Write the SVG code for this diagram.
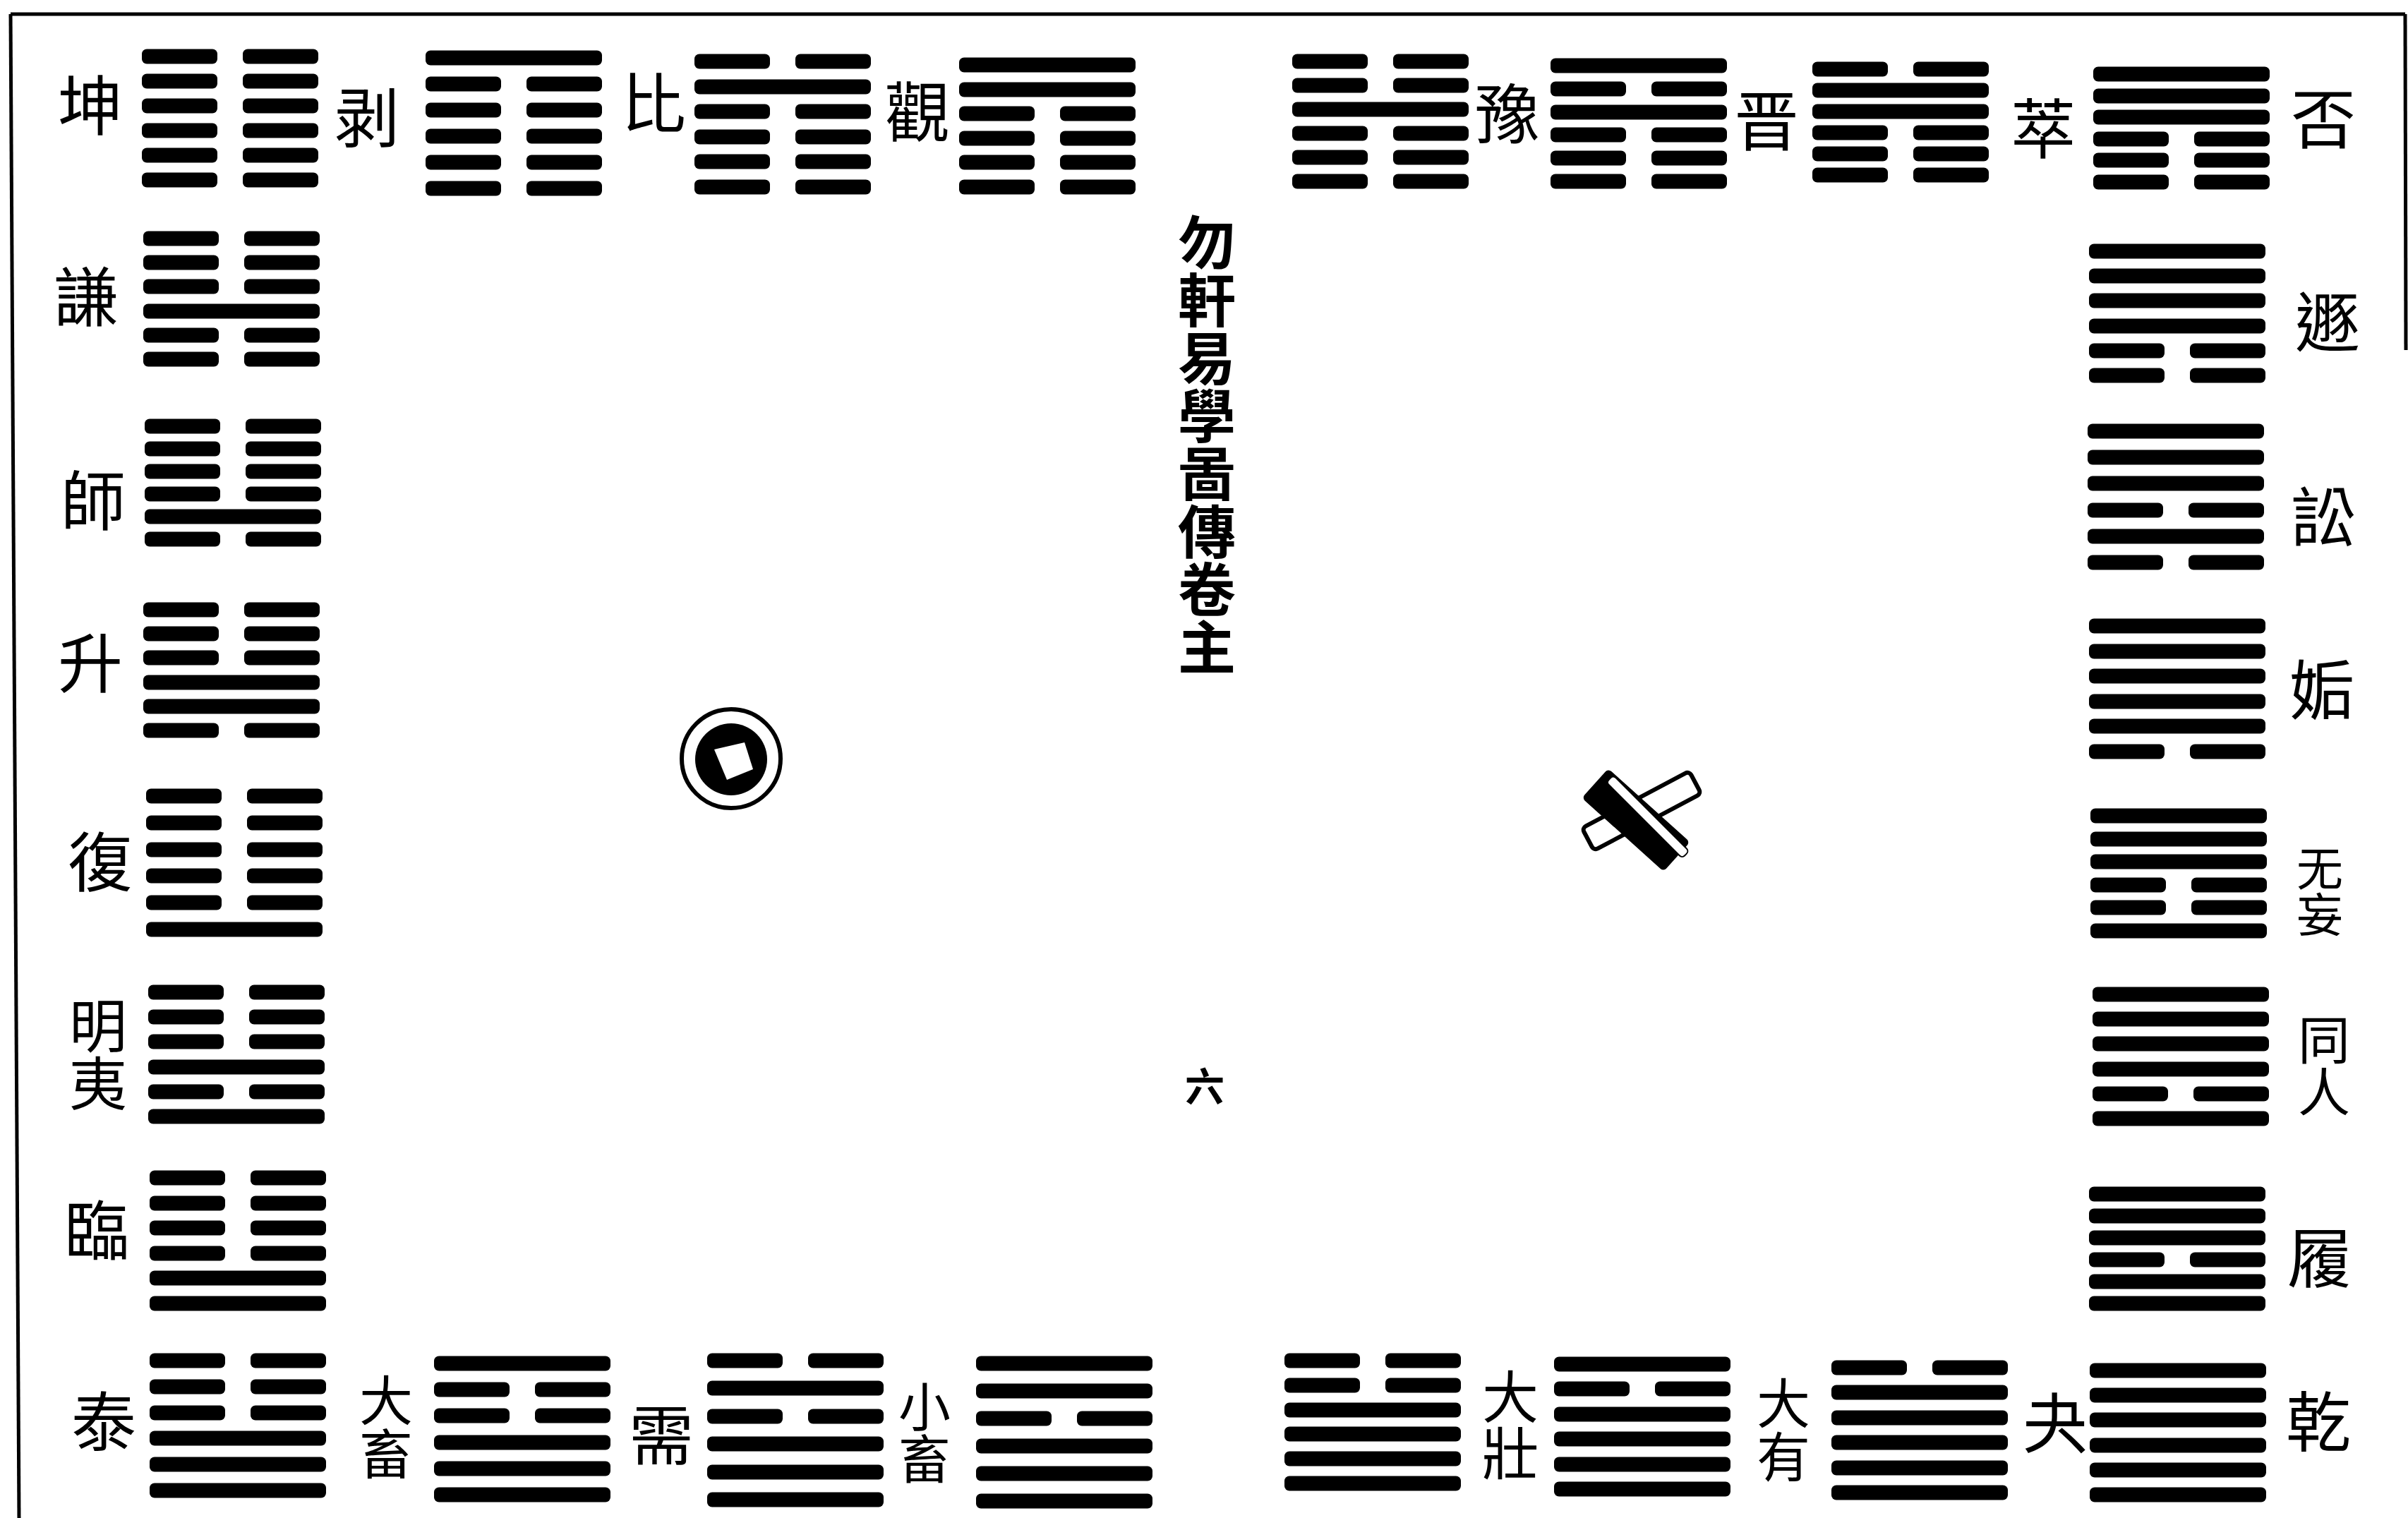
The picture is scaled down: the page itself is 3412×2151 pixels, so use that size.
<svg xmlns="http://www.w3.org/2000/svg" xmlns:xlink="http://www.w3.org/1999/xlink" width="3412" height="2151" viewBox="0 0 3412 2151">
<style>
.lbl{font-family:"Noto Sans CJK TC","Noto Sans CJK SC",sans-serif;font-size:92px;text-anchor:middle;dominant-baseline:central;fill:#000}
.v{writing-mode:vertical-rl;text-anchor:middle}
.ttl{font-family:"Noto Sans CJK TC","Noto Sans CJK SC",sans-serif;font-size:82px;font-weight:700;text-anchor:middle;fill:#000}
.frame{stroke:#000;stroke-width:5;fill:none}
</style>
<defs>
<rect id="Y" y="-1.5" width="250" height="21" rx="7" fill="#000"/>
<g id="N"><rect y="-1.5" width="107" height="21" rx="7" fill="#000"/><rect x="143" y="-1.5" width="107" height="21" rx="7" fill="#000"/></g>
</defs>
<rect width="3412" height="2151" fill="#fff"/>
<g id="frame">
<path class="frame" d="M15 20 L27 2151"/>
<path class="frame" d="M15 20 L3408 20"/>
<path class="frame" d="M3408 20 L3409 496" stroke-width="3"/>
</g>
<g id="connectors"/>

<g id="kun"><text class="lbl" x="128" y="143">坤</text>
<use href="#N" x="201" y="71"/><use href="#N" x="201" y="106"/><use href="#N" x="201" y="141"/><use href="#N" x="201" y="176"/><use href="#N" x="201" y="211"/><use href="#N" x="201" y="246"/></g>
<g id="bo"><text class="lbl" x="520" y="160">剥</text>
<use href="#Y" x="603" y="73"/><use href="#N" x="603" y="110"/><use href="#N" x="603" y="147"/><use href="#N" x="603" y="184"/><use href="#N" x="603" y="221"/><use href="#N" x="603" y="258"/></g>
<g id="bi"><text class="lbl" x="926" y="140">比</text>
<use href="#N" x="984" y="78"/><use href="#Y" x="984" y="114"/><use href="#N" x="984" y="149"/><use href="#N" x="984" y="185"/><use href="#N" x="984" y="220"/><use href="#N" x="984" y="256"/></g>
<g id="guan"><text class="lbl" x="1300" y="152">觀</text>
<use href="#Y" x="1359" y="83"/><use href="#Y" x="1359" y="118"/><use href="#N" x="1359" y="152"/><use href="#N" x="1359" y="187"/><use href="#N" x="1359" y="221"/><use href="#N" x="1359" y="256"/></g>
<g id="yu"><text class="lbl" x="2136" y="155">豫</text>
<use href="#N" x="1831" y="78"/><use href="#N" x="1831" y="112"/><use href="#Y" x="1831" y="146"/><use href="#N" x="1831" y="180"/><use href="#N" x="1831" y="214"/><use href="#N" x="1831" y="248"/></g>
<g id="jin"><text class="lbl" x="2503" y="165">晋</text>
<use href="#Y" x="2197" y="84"/><use href="#N" x="2197" y="117"/><use href="#Y" x="2197" y="150"/><use href="#N" x="2197" y="182"/><use href="#N" x="2197" y="215"/><use href="#N" x="2197" y="248"/></g>
<g id="cui"><text class="lbl" x="2895" y="176">萃</text>
<use href="#N" x="2568" y="89"/><use href="#Y" x="2568" y="119"/><use href="#Y" x="2568" y="149"/><use href="#N" x="2568" y="179"/><use href="#N" x="2568" y="209"/><use href="#N" x="2568" y="239"/></g>
<g id="pi"><text class="lbl" x="3292" y="162">否</text>
<use href="#Y" x="2966" y="96"/><use href="#Y" x="2966" y="127"/><use href="#Y" x="2966" y="157"/><use href="#N" x="2966" y="188"/><use href="#N" x="2966" y="218"/><use href="#N" x="2966" y="249"/></g>

<g id="qian-modesty"><text class="lbl" x="122" y="414">謙</text>
<use href="#N" x="203" y="329"/><use href="#N" x="203" y="363"/><use href="#N" x="203" y="397"/><use href="#Y" x="203" y="432"/><use href="#N" x="203" y="466"/><use href="#N" x="203" y="500"/></g>
<g id="shi"><text class="lbl" x="132" y="703">師</text>
<use href="#N" x="205" y="595"/><use href="#N" x="205" y="627"/><use href="#N" x="205" y="659"/><use href="#N" x="205" y="691"/><use href="#Y" x="205" y="723"/><use href="#N" x="205" y="755"/></g>
<g id="sheng"><text class="lbl" x="128" y="933">升</text>
<use href="#N" x="203" y="855"/><use href="#N" x="203" y="889"/><use href="#N" x="203" y="923"/><use href="#Y" x="203" y="958"/><use href="#Y" x="203" y="992"/><use href="#N" x="203" y="1026"/></g>
<g id="fu"><text class="lbl" x="142" y="1215">復</text>
<use href="#N" x="207" y="1119"/><use href="#N" x="207" y="1157"/><use href="#N" x="207" y="1195"/><use href="#N" x="207" y="1232"/><use href="#N" x="207" y="1270"/><use href="#Y" x="207" y="1308"/></g>
<g id="mingyi"><text class="lbl v" x="139" y="1494" style="font-size:82px">明夷</text>
<use href="#N" x="210" y="1397"/><use href="#N" x="210" y="1432"/><use href="#N" x="210" y="1467"/><use href="#Y" x="210" y="1503"/><use href="#N" x="210" y="1538"/><use href="#Y" x="210" y="1573"/></g>
<g id="lin"><text class="lbl" x="137" y="1737">臨</text>
<use href="#N" x="212" y="1660"/><use href="#N" x="212" y="1696"/><use href="#N" x="212" y="1731"/><use href="#N" x="212" y="1767"/><use href="#Y" x="212" y="1802"/><use href="#Y" x="212" y="1838"/></g>
<g id="tai"><text class="lbl" x="147" y="2008">泰</text>
<use href="#N" x="212" y="1919"/><use href="#N" x="212" y="1956"/><use href="#N" x="212" y="1993"/><use href="#Y" x="212" y="2029"/><use href="#Y" x="212" y="2066"/><use href="#Y" x="212" y="2103"/></g>

<g id="daxu"><text class="lbl v" x="547" y="2022" style="font-size:76px">大畜</text>
<use href="#Y" x="615" y="1923"/><use href="#N" x="615" y="1960"/><use href="#N" x="615" y="1997"/><use href="#Y" x="615" y="2035"/><use href="#Y" x="615" y="2072"/><use href="#Y" x="615" y="2109"/></g>
<g id="xu"><text class="lbl" x="937" y="2027">需</text>
<use href="#N" x="1002" y="1919"/><use href="#Y" x="1002" y="1958"/><use href="#N" x="1002" y="1998"/><use href="#Y" x="1002" y="2037"/><use href="#Y" x="1002" y="2077"/><use href="#Y" x="1002" y="2116"/></g>
<g id="xiaoxu"><text class="lbl v" x="1310" y="2030" style="font-size:74px">小畜</text>
<use href="#Y" x="1383" y="1923"/><use href="#Y" x="1383" y="1962"/><use href="#N" x="1383" y="2001"/><use href="#Y" x="1383" y="2040"/><use href="#Y" x="1383" y="2079"/><use href="#Y" x="1383" y="2118"/></g>
<g id="dazhuang"><text class="lbl v" x="2140" y="2019" style="font-size:80px">大壯</text>
<use href="#N" x="1820" y="1919"/><use href="#N" x="1820" y="1954"/><use href="#Y" x="1820" y="1989"/><use href="#Y" x="1820" y="2023"/><use href="#Y" x="1820" y="2058"/><use href="#Y" x="1820" y="2093"/></g>
<g id="dayou"><text class="lbl v" x="2527" y="2026" style="font-size:76px">大有</text>
<use href="#Y" x="2202" y="1924"/><use href="#N" x="2202" y="1959"/><use href="#Y" x="2202" y="1995"/><use href="#Y" x="2202" y="2030"/><use href="#Y" x="2202" y="2066"/><use href="#Y" x="2202" y="2101"/></g>
<g id="guai"><text class="lbl" x="2912" y="2010">夬</text>
<use href="#N" x="2595" y="1929"/><use href="#Y" x="2595" y="1964"/><use href="#Y" x="2595" y="2000"/><use href="#Y" x="2595" y="2035"/><use href="#Y" x="2595" y="2071"/><use href="#Y" x="2595" y="2106"/></g>
<g id="qian"><text class="lbl" x="3285" y="2008">乾</text>
<use href="#Y" x="2961" y="1933"/><use href="#Y" x="2961" y="1968"/><use href="#Y" x="2961" y="2003"/><use href="#Y" x="2961" y="2039"/><use href="#Y" x="2961" y="2074"/><use href="#Y" x="2961" y="2109"/></g>

<g id="dun"><text class="lbl" x="3298" y="450">遯</text>
<use href="#Y" x="2960" y="347"/><use href="#Y" x="2960" y="382"/><use href="#Y" x="2960" y="417"/><use href="#Y" x="2960" y="453"/><use href="#N" x="2960" y="488"/><use href="#N" x="2960" y="523"/></g>
<g id="song"><text class="lbl" x="3292" y="726">訟</text>
<use href="#Y" x="2958" y="602"/><use href="#Y" x="2958" y="639"/><use href="#Y" x="2958" y="676"/><use href="#N" x="2958" y="714"/><use href="#Y" x="2958" y="751"/><use href="#N" x="2958" y="788"/></g>
<g id="gou"><text class="lbl" x="3290" y="971">姤</text>
<use href="#Y" x="2960" y="878"/><use href="#Y" x="2960" y="914"/><use href="#Y" x="2960" y="949"/><use href="#Y" x="2960" y="985"/><use href="#Y" x="2960" y="1020"/><use href="#N" x="2960" y="1056"/></g>
<g id="wuwang"><text class="lbl v" x="3287" y="1263" style="font-size:66px">无妄</text>
<use href="#Y" x="2962" y="1147"/><use href="#Y" x="2962" y="1180"/><use href="#Y" x="2962" y="1212"/><use href="#N" x="2962" y="1245"/><use href="#N" x="2962" y="1277"/><use href="#Y" x="2962" y="1310"/></g>
<g id="tongren"><text class="lbl v" x="3293" y="1510" style="font-size:74px">同人</text>
<use href="#Y" x="2965" y="1400"/><use href="#Y" x="2965" y="1435"/><use href="#Y" x="2965" y="1470"/><use href="#Y" x="2965" y="1506"/><use href="#N" x="2965" y="1541"/><use href="#Y" x="2965" y="1576"/></g>
<g id="lu"><text class="lbl" x="3287" y="1776">履</text>
<use href="#Y" x="2960" y="1683"/><use href="#Y" x="2960" y="1714"/><use href="#Y" x="2960" y="1745"/><use href="#N" x="2960" y="1776"/><use href="#Y" x="2960" y="1807"/><use href="#Y" x="2960" y="1838"/></g>

<g id="title">
<text class="ttl v" x="1710" y="630">勿軒易學啚傳卷主</text>
</g>

<g id="coin">
<circle cx="1036" cy="1075" r="70" fill="#fff" stroke="#000" stroke-width="6"/>
<circle cx="1036" cy="1076" r="51" fill="#000"/>
<polygon points="1012,1062 1055,1052 1067,1090 1030,1105" fill="#fff"/>
</g>

<g id="cross">
<rect x="-86" y="-18" width="172" height="36" rx="6" fill="#fff" stroke="#000" stroke-width="6" transform="translate(2326,1149) rotate(-28)"/>
<rect x="-78" y="-28" width="156" height="56" rx="6" fill="#000" transform="translate(2318,1162) rotate(42)"/>
<rect x="-76" y="-8" width="152" height="14" rx="5" fill="#fff" stroke="#000" stroke-width="2" transform="translate(2334,1158) rotate(45)"/>
</g>

<g id="pagenum"><text class="ttl" x="1707" y="1535" dominant-baseline="central" style="font-size:56px">六</text></g>
</svg>
